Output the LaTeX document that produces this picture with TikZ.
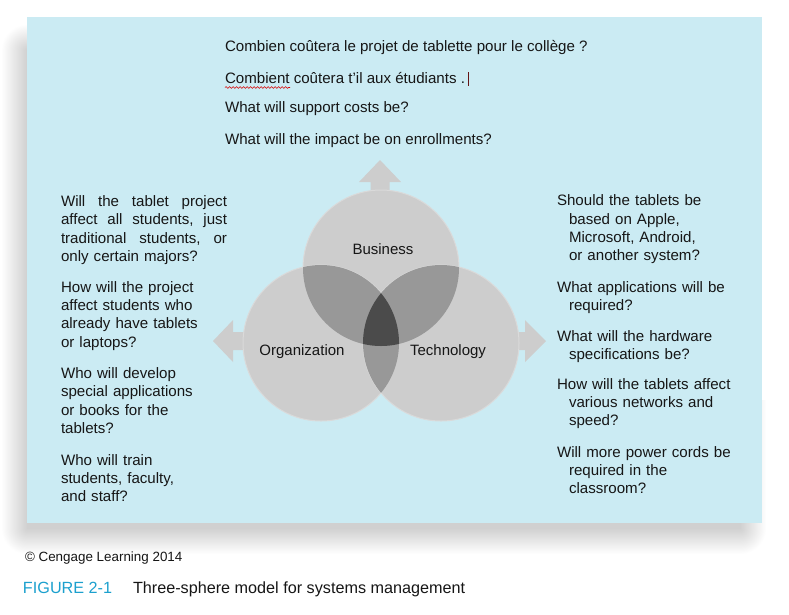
\documentclass[tikz,border=0pt]{standalone}
\usepackage{fontspec}
\setmainfont{Liberation Sans}
\usetikzlibrary{decorations.pathmorphing}
\definecolor{panel}{RGB}{203,235,243}
\definecolor{shc}{RGB}{208,208,208}
\definecolor{cfill}{RGB}{205,205,205}
\definecolor{cedge}{RGB}{218,218,218}
\definecolor{ctwo}{RGB}{152,152,152}
\definecolor{cthree}{RGB}{75,75,75}
\definecolor{figblue}{RGB}{27,160,206}
\definecolor{txt}{RGB}{22,22,22}
\definecolor{cursor}{RGB}{100,20,20}
\newcommand{\jline}[1]{\leavevmode\hbox to 166pt{#1}}
\begin{document}
\begin{tikzpicture}[x=1pt,y=-1pt,
  every node/.style={inner sep=0pt,outer sep=0pt,text=txt},
  qtext/.style={anchor=base west,align=left,font=\fontsize{15.1}{18.4}\selectfont},
  lbl/.style={anchor=base,font=\fontsize{15}{18.4}\selectfont},
  sphere/.style={fill=cfill},
  bigarrow/.style={fill=cfill},
  corner/.style={inner color=shc,outer color=white}]
\useasboundingbox (0,0) rectangle (789,614);
\fill[white] (0,0) rectangle (789,614);
% soft shadow: core plus shaded bands and corners
\fill[shc] (27,50) rectangle (740,528);
\shade[left color=white,right color=shc] (1,50) rectangle (27,528);
\shade[top color=shc,bottom color=white] (27,528) rectangle (740,554);
\shade[left color=shc,right color=white] (740,400) rectangle (766,528);
\begin{scope}\clip (1,24) rectangle (27,50);
  \shade[corner] (27,50) circle[radius=26pt];\end{scope}
\begin{scope}\clip (1,528) rectangle (27,554);
  \shade[corner] (27,528) circle[radius=26pt];\end{scope}
\begin{scope}\clip (740,528) rectangle (766,554);
  \shade[corner] (740,528) circle[radius=26pt];\end{scope}
% panel
\fill[panel] (27,17) rectangle (762,523);

% top questions
\node[qtext] (t1) at (225,51.7) {Combien coûtera le projet de tablette pour le collège ?};
\node[qtext] (t2) at (225,83.3) {Combient coûtera t’il aux étudiants .};
\node[qtext] (t3) at (225,112.7) {What will support costs be?};
\node[qtext] (t4) at (225,144) {What will the impact be on enrollments?};
\draw[red!85!black, line width=0.6pt, decorate, decoration={snake, amplitude=0.9pt, segment length=3.5pt}] (225,87.5) -- (290,87.5);
\coordinate (cura) at (468.5,72);
\coordinate (curb) at (468.5,86);
\draw[cursor, line width=0.9pt] (cura) -- (curb);

% arrows
\fill[bigarrow] (370.5,210) -- (370.5,182) -- (359,182) -- (380,160) -- (401,182) -- (389.5,182) -- (389.5,210) -- cycle;
\fill[bigarrow] (260,332) -- (233,332) -- (233,320) -- (213,341) -- (233,362) -- (233,350) -- (260,350) -- cycle;
\fill[bigarrow] (500,332) -- (525,332) -- (525,320) -- (546,341) -- (525,362) -- (525,350) -- (500,350) -- cycle;

% spheres
\coordinate (B) at (381,268);
\coordinate (O) at (321,343);
\coordinate (T) at (441,343);
\foreach \c in {B,O,T} {\fill[sphere, draw=cedge, line width=1pt] (\c) circle[radius=78pt];}
\begin{scope}
  \clip (B) circle[radius=78pt];
  \fill[ctwo] (O) circle[radius=78pt];
  \fill[ctwo] (T) circle[radius=78pt];
\end{scope}
\begin{scope}
  \clip (O) circle[radius=78pt];
  \fill[ctwo] (T) circle[radius=78pt];
\end{scope}
\begin{scope}
  \clip (B) circle[radius=78pt];
  \clip (O) circle[radius=78pt];
  \fill[cthree] (T) circle[radius=78pt];
\end{scope}
\node[lbl] (bus) at (383,254.7) {Business};
\node[lbl] (org) at (302,355.7) {Organization};
\node[lbl] (tech) at (448,355.7) {Technology};

% left questions
\node[qtext,text width=170pt] (l1) at (61,206.5) {\jline{Will\hfill the\hfill tablet\hfill project}\\
\jline{affect\hfill all\hfill students,\hfill just}\\
\jline{traditional\hfill students,\hfill or}\\
only certain majors?};
\node[qtext,text width=170pt] (l2) at (61,292) {How will the project\\affect students who\\already have tablets\\or laptops?};
\node[qtext,text width=170pt] (l3) at (61,378.5) {Who will develop\\special applications\\or books for the\\tablets?};
\node[qtext,text width=170pt] (l4) at (61,465) {Who will train\\students, faculty,\\and staff?};

% right questions
\node[qtext,text width=200pt] (r1) at (557,205.7) {Should the tablets be\\\hspace*{12pt}based on Apple,\\\hspace*{12pt}Microsoft, Android,\\\hspace*{12pt}or another system?};
\node[qtext,text width=200pt] (r2) at (557,292) {What applications will be\\\hspace*{12pt}required?};
\node[qtext,text width=200pt] (r3) at (557,341) {What will the hardware\\\hspace*{12pt}specifications be?};
\node[qtext,text width=200pt] (r4) at (557,389) {How will the tablets affect\\\hspace*{12pt}various networks and\\\hspace*{12pt}speed?};
\node[qtext,text width=200pt] (r5) at (557,457) {Will more power cords be\\\hspace*{12pt}required in the\\\hspace*{12pt}classroom?};

% caption
\node[anchor=base west,font=\fontsize{13.4}{16}\selectfont] (copy) at (25,561) {© Cengage Learning 2014};
\node[anchor=base west,font=\fontsize{16.2}{19}\selectfont,text=figblue] (fig) at (23,593) {FIGURE 2-1};
\node[anchor=base west,font=\fontsize{16.2}{19}\selectfont] (cap) at (133,593) {Three-sphere model for systems management};
\end{tikzpicture}
\end{document}
